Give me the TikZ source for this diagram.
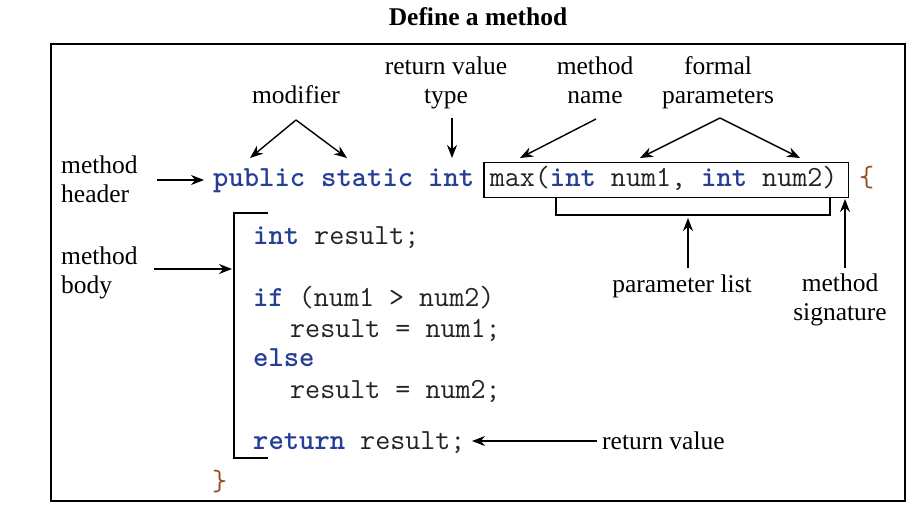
\documentclass[tikz,border=0pt]{standalone}
\usepackage{fontspec}
\setmainfont{Liberation Serif}
\usetikzlibrary{arrows.meta}
\definecolor{kwblue}{RGB}{38,62,150}
\definecolor{bracecol}{RGB}{150,75,35}
\definecolor{codegray}{RGB}{35,35,35}
\newcommand{\kw}[1]{\textbf{\textcolor{kwblue}{#1}}}

\begin{document}
\begin{tikzpicture}[x=1pt,y=-1pt,
      lbl/.style={align=center,inner sep=0pt,anchor=base,
        font=\fontsize{25.5}{29}\selectfont},
      code/.style={anchor=base west,inner sep=0pt,text=codegray,
        font=\fontsize{29.2}{30}\selectfont\ttfamily},
      arr/.style={line width=1.4pt,-{Stealth[length=13pt,width=10pt]}},
      ]
        \useasboundingbox (0,0) rectangle (923,513);
        \node [lbl,font=\fontsize{25.5}{29}\selectfont\bfseries] (title)
          at (478,26) {Define a method};
        \draw [line width=1.8pt] (51,44) rectangle (905,501);

        % labels (base = last line)
        \node [lbl] (mod) at (296,104) {modifier};
        \node [lbl] (rtype) at (446,104) {return value\\type};
        \node [lbl] (mname) at (595,104) {method\\name};
        \node [lbl] (fparam) at (718,104) {formal\\parameters};
        \node [lbl,align=left,anchor=base west] (mhead) at (61,203) {method\\header};
        \node [lbl,align=left,anchor=base west] (mbody) at (61,293) {method\\body};
        \node [lbl] (plist) at (682,292) {parameter list};
        \node [lbl] (msig) at (840,320) {method\\signature};
        \node [lbl,anchor=base west] (rval) at (602,449) {return value};

        % code
        \node [code] (pub) at (213,187) {\kw{public}};
        \node [code] (stat) at (321,187) {\kw{static}};
        \node [code] (rint) at (428,187) {\kw{int}};
        \node [code,draw=black,line width=1.6pt,inner xsep=6pt,inner ysep=5.5pt,
          text height=19pt,text depth=5pt] (sig)
          at (483,187) {max(\kw{int} num1, \kw{int} num2)\kern5pt};
        \node [code,text=bracecol] (lb) at (859,187) {\{};
        \node [code] (l1) at (253,244) {\kw{int} result;};
        \node [code] (l2) at (253,306) {\kw{if} (num1 > num2)};
        \node [code] (l3) at (290,337) {result = num1;};
        \node [code] (l4) at (253,366) {\kw{else}};
        \node [code] (l5) at (290,398) {result = num2;};
        \node [code] (l6) at (253,449) {\kw{return} result;};
        \node [code,text=bracecol] (rb) at (212,490) {\}};

        % brackets
        \draw [line width=1.6pt] (268,213) coordinate (B) -- ++(-34,0)
          -- ++(0,245) -- ++(34,0);
        \draw [line width=1.6pt] (556,197) -- ++(0,18) coordinate (P)
          -- ++(274,0) -- ++(0,-18);

        % arrows
        \coordinate (m0) at (296,120);
        \coordinate (r0) at (452,118);
        \coordinate (n0) at (596,119);
        \coordinate (f0) at (720,118);
        \draw [arr] (m0) -- (250,158);
        \draw [arr] (m0) -- (347,158);
        \draw [arr] (r0) -- (452,158);
        \draw [arr] (n0) -- (520,158);
        \draw [arr] (f0) -- (640,158);
        \draw [arr] (f0) -- (800,158);
        \draw [arr] (157,180) coordinate (h0) -- (204,180);
        \draw [arr] (154,269) coordinate (b0) -- (232,269);
        \draw [arr] (688,268) coordinate (p0) -- (688,218);
        \draw [arr] (845,268) coordinate (s0) -- (845,199);
        \draw [arr] (597,441) coordinate (v0) -- (472,441);
      \end{tikzpicture}
\end{document}
